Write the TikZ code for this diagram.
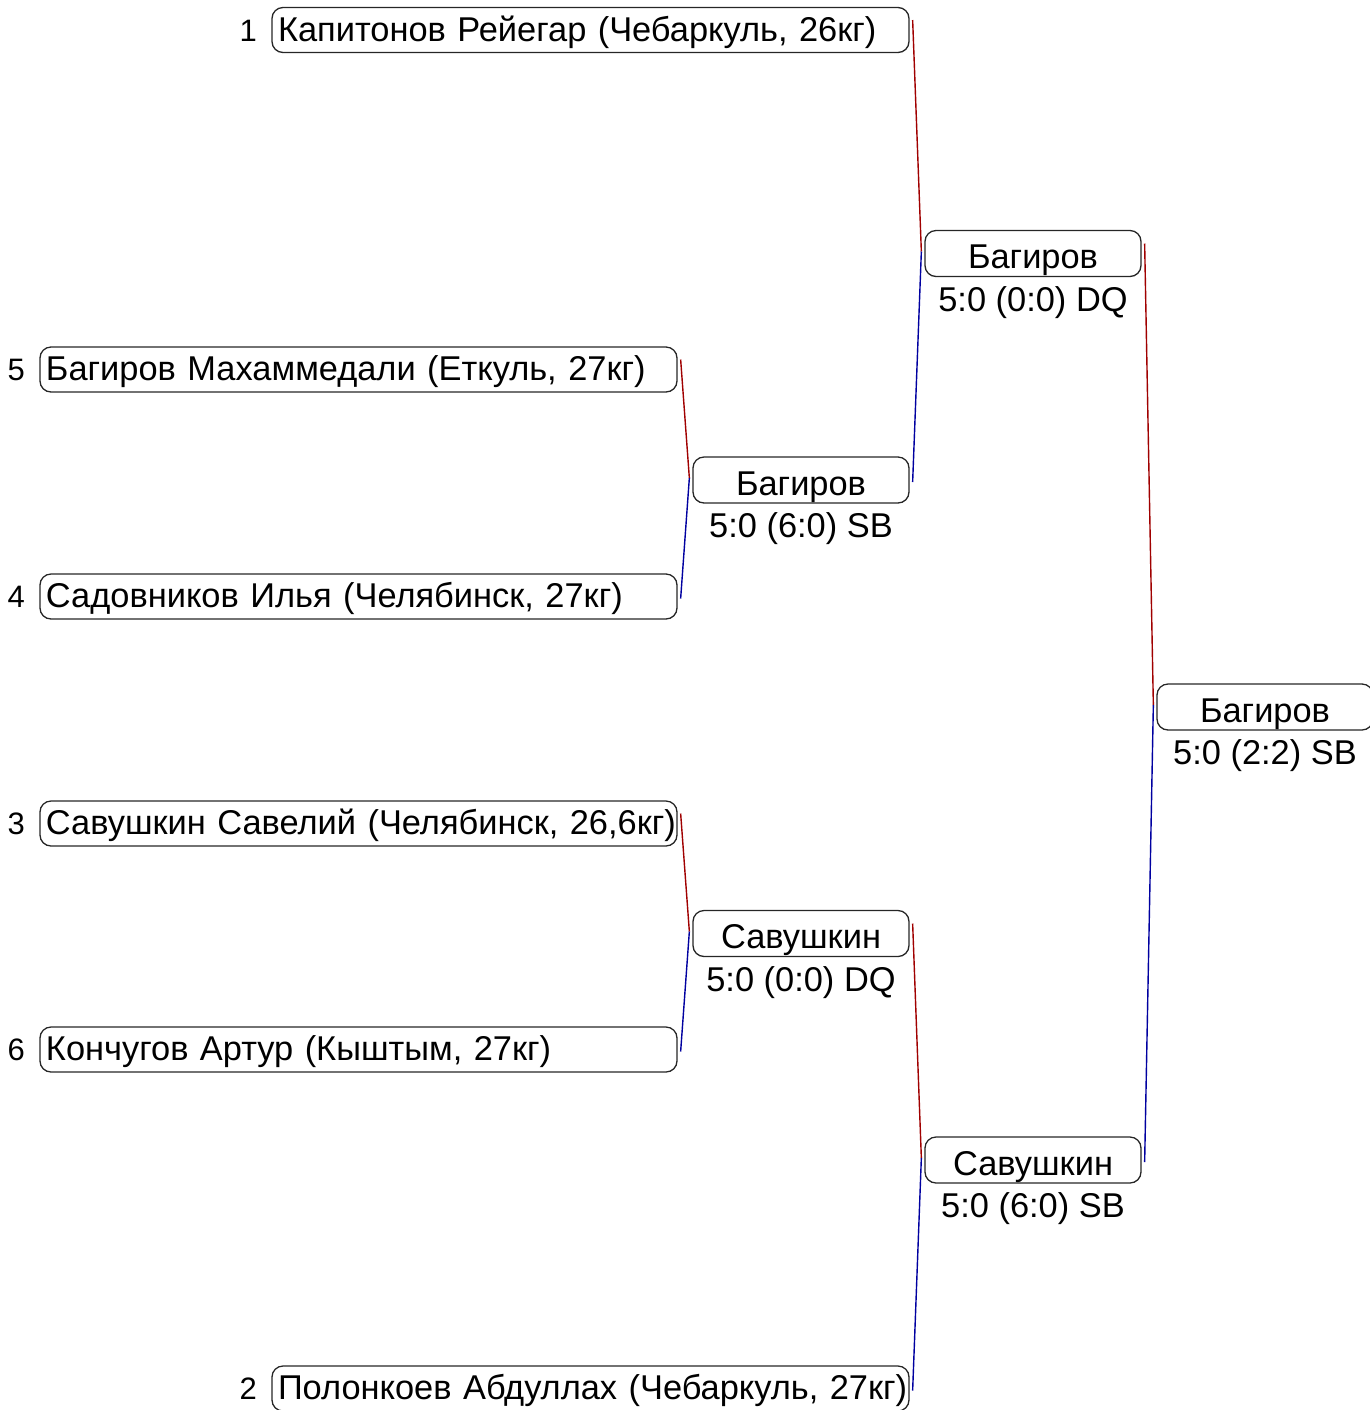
\documentclass[tikz,border=0pt]{standalone}
\usepackage{fontspec}
\setmainfont{Liberation Sans}
\usepackage{xcolor}
\usepackage{tikz}

\definecolor{winred}{RGB}{160,0,0}
\definecolor{winblue}{RGB}{0,0,160}
\newcommand{\pname}[1]{\mbox{#1}}

\begin{document}
\begin{tikzpicture}[x=0.5pt, y=-0.5pt, every node/.style={font=\fontsize{17.2}{20}\selectfont}]
	\useasboundingbox (0, 0) rectangle (1370, 1410);

	\begin{scope}[
		player/.style={draw=black!85, line width=0.65pt, rounded corners=5.5pt, text width=312.5pt, inner xsep=3pt, inner ysep=0pt, minimum height=22.5pt, text height=13.5pt, text depth=2.5pt, align=left},
		winner/.style={draw=black!85, line width=0.65pt, rounded corners=5.5pt, text width=102pt, inner xsep=3pt, inner ysep=0pt, minimum height=23pt, text height=15pt, text depth=0pt, align=center},
		seed/.style={anchor=east, inner sep=0pt, text height=13.5pt, text depth=2.5pt, font=\fontsize{15.5}{18}\selectfont},
		score/.style={anchor=base, inner sep=0pt}]
		% first round
		\node[player] (P1) at (590.5, 30) {\pname{Капитонов Рейегар (Чебаркуль, 26кг)}};
		\node[player] (P5) at (358.5, 369.5) {\pname{Багиров Махаммедали (Еткуль, 27кг)}};
		\node[player] (P4) at (358.5, 596.5) {\pname{Садовников Илья (Челябинск, 27кг)}};
		\node[player] (P3) at (358.5, 823.5) {\pname{Савушкин Савелий (Челябинск, 26,6кг)}};
		\node[player] (P6) at (358.5, 1049.5) {\pname{Кончугов Артур (Кыштым, 27кг)}};
		\node[player] (P2) at (590.5, 1388.5) {\pname{Полонкоев Абдуллах (Чебаркуль, 27кг)}};

		\node[seed] at ([xshift=-7pt]P1.west) {1};
		\node[seed] at ([xshift=-7pt]P5.west) {5};
		\node[seed] at ([xshift=-7pt]P4.west) {4};
		\node[seed] at ([xshift=-7pt]P3.west) {3};
		\node[seed] at ([xshift=-7pt]P6.west) {6};
		\node[seed] at ([xshift=-7pt]P2.west) {2};

		% winners
		\node[winner] (W21) at (801, 480) {Багиров};
		\node[winner] (W22) at (801, 933.5) {Савушкин};
		\node[winner] (W31) at (1033, 253.5) {Багиров};
		\node[winner] (W32) at (1033, 1160) {Савушкин};
		\node[winner] (W4) at (1265, 707) {Багиров};

		\node[score] at ([yshift=-17pt]W21.south) {5:0 (6:0) SB};
		\node[score] at ([yshift=-17pt]W22.south) {5:0 (0:0) DQ};
		\node[score] at ([yshift=-17pt]W31.south) {5:0 (0:0) DQ};
		\node[score] at ([yshift=-17pt]W32.south) {5:0 (6:0) SB};
		\node[score] at ([yshift=-17pt]W4.south) {5:0 (2:2) SB};
	\end{scope}

	\begin{scope}[red line/.style={winred, line width=0.7pt}, blue line/.style={winblue, line width=0.7pt}]
		\draw[red line] ([xshift=1.5pt, yshift=5pt]P5.east) -- ([xshift=-1.5pt, yshift=1pt]W21.west);
		\draw[blue line] ([xshift=-1.5pt, yshift=1pt]W21.west) -- ([xshift=1.5pt, yshift=-1pt]P4.east);
		\draw[red line] ([xshift=1.5pt, yshift=5pt]P3.east) -- ([xshift=-1.5pt, yshift=1pt]W22.west);
		\draw[blue line] ([xshift=-1.5pt, yshift=1pt]W22.west) -- ([xshift=1.5pt, yshift=-1pt]P6.east);
		\draw[red line] ([xshift=1.5pt, yshift=5pt]P1.east) -- ([xshift=-1.5pt, yshift=1pt]W31.west);
		\draw[blue line] ([xshift=-1.5pt, yshift=1pt]W31.west) -- ([xshift=1.5pt, yshift=-1pt]W21.east);
		\draw[red line] ([xshift=1.5pt, yshift=5pt]W22.east) -- ([xshift=-1.5pt, yshift=1pt]W32.west);
		\draw[blue line] ([xshift=-1.5pt, yshift=1pt]W32.west) -- ([xshift=1.5pt, yshift=-1pt]P2.east);
		\draw[red line] ([xshift=1.5pt, yshift=5pt]W31.east) -- ([xshift=-1.5pt, yshift=1pt]W4.west);
		\draw[blue line] ([xshift=-1.5pt, yshift=1pt]W4.west) -- ([xshift=1.5pt, yshift=-1pt]W32.east);
	\end{scope}
\end{tikzpicture}
\end{document}
